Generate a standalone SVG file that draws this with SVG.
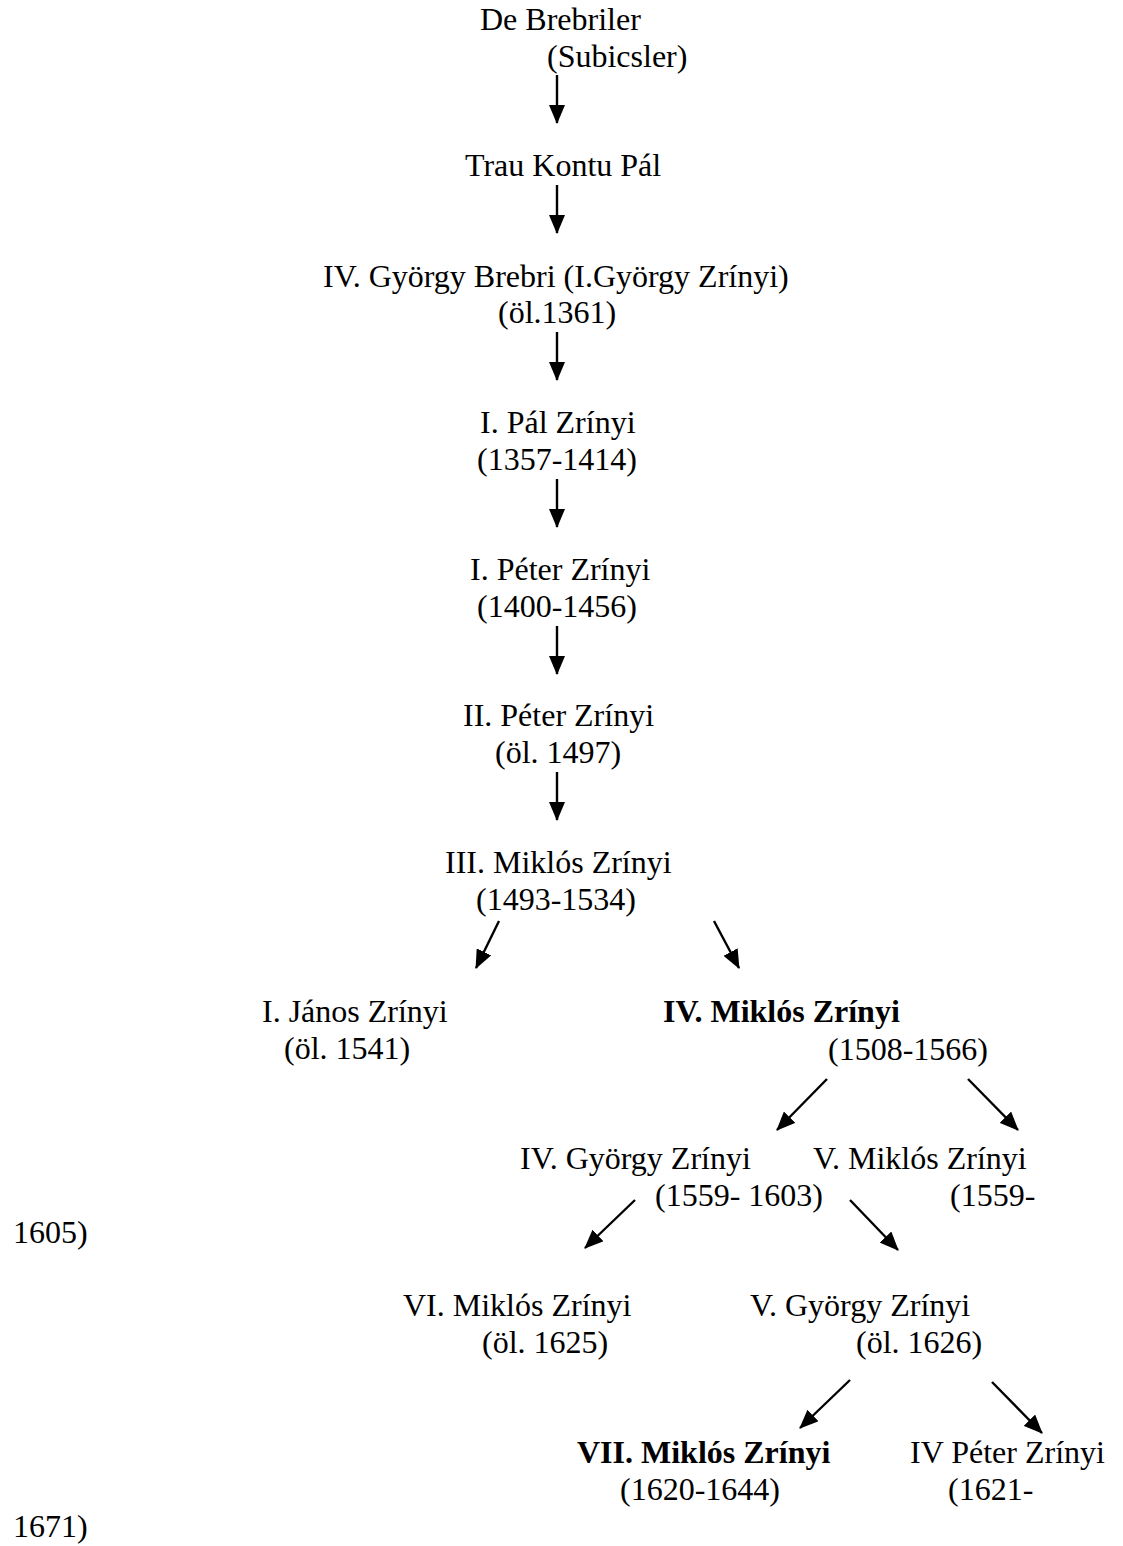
<svg xmlns="http://www.w3.org/2000/svg" width="1123" height="1546" viewBox="0 0 1123 1546">
<style>
text { font-family: "Liberation Serif", "Times New Roman", serif; font-size: 32px; fill: #000; }
.b { font-weight: bold; }
.c { stroke: #000; stroke-width: 2.4; fill: none; marker-end: url(#ah); }
</style>
<defs>
<marker id="ah" markerUnits="userSpaceOnUse" markerWidth="20" markerHeight="16" viewBox="0 0 20 16" refX="18" refY="8" orient="auto">
<path d="M0,0 L19,8 L0,16 Z" fill="#000"/>
</marker>
</defs>
<rect width="1123" height="1546" fill="#fff"/>
<g id="n-brebriler"><text x="480" y="30">De Brebriler</text><text x="547" y="66.7">(Subicsler)</text></g>
<g id="n-trau"><text x="465" y="176">Trau Kontu Pál</text></g>
<g id="n-gyorgy1"><text x="323" y="286.5">IV. György Brebri (I.György Zrínyi)</text><text x="498" y="323">(öl.1361)</text></g>
<g id="n-pal1"><text x="480" y="433">I. Pál Zrínyi</text><text x="477" y="470">(1357-1414)</text></g>
<g id="n-peter1"><text x="470" y="580">I. Péter Zrínyi</text><text x="477" y="617">(1400-1456)</text></g>
<g id="n-peter2"><text x="463" y="726">II. Péter Zrínyi</text><text x="495" y="763">(öl. 1497)</text></g>
<g id="n-miklos3"><text x="445" y="873">III. Miklós Zrínyi</text><text x="476" y="910">(1493-1534)</text></g>
<g id="n-janos1"><text x="262" y="1022">I. János Zrínyi</text><text x="284" y="1059">(öl. 1541)</text></g>
<g id="n-miklos4"><text class="b" x="663" y="1022">IV. Miklós Zrínyi</text><text x="828" y="1060">(1508-1566)</text></g>
<g id="n-gyorgy4"><text x="520" y="1169">IV. György Zrínyi</text><text x="655" y="1206">(1559- 1603)</text></g>
<g id="n-miklos5"><text x="813" y="1169">V. Miklós Zrínyi</text><text x="950" y="1206">(1559-</text><text x="13" y="1243">1605)</text></g>
<g id="n-miklos6"><text x="403" y="1316">VI. Miklós Zrínyi</text><text x="482" y="1353">(öl. 1625)</text></g>
<g id="n-gyorgy5"><text x="750" y="1316">V. György Zrínyi</text><text x="856" y="1353">(öl. 1626)</text></g>
<g id="n-miklos7"><text class="b" x="577" y="1463">VII. Miklós Zrínyi</text><text x="620" y="1500">(1620-1644)</text></g>
<g id="n-peter4"><text x="910" y="1463">IV Péter Zrínyi</text><text x="948" y="1500">(1621-</text><text x="13" y="1537">1671)</text></g>
<g id="connectors">
<line class="c" x1="557" y1="75" x2="557" y2="123"/>
<line class="c" x1="557" y1="185" x2="557" y2="233"/>
<line class="c" x1="557" y1="332" x2="557" y2="380"/>
<line class="c" x1="557" y1="479" x2="557" y2="527"/>
<line class="c" x1="557" y1="626" x2="557" y2="674"/>
<line class="c" x1="557" y1="772" x2="557" y2="820"/>
<line class="c" x1="499" y1="921" x2="476" y2="968"/>
<line class="c" x1="714" y1="921" x2="739" y2="968"/>
<line class="c" x1="827" y1="1079" x2="777" y2="1130"/>
<line class="c" x1="968" y1="1079" x2="1018" y2="1130"/>
<line class="c" x1="635" y1="1200" x2="585" y2="1248"/>
<line class="c" x1="850" y1="1200" x2="898" y2="1250"/>
<line class="c" x1="850" y1="1380" x2="800" y2="1428"/>
<line class="c" x1="992" y1="1382" x2="1042" y2="1433"/>
</g>
</svg>
